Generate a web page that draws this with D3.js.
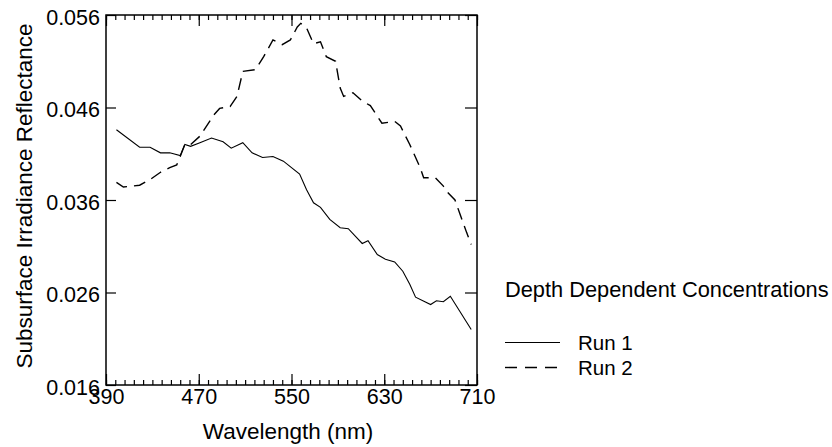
<!DOCTYPE html>
<html><head><meta charset="utf-8">
<script src="https://cdn.jsdelivr.net/npm/d3@7"></script>
<style>
html,body{margin:0;padding:0;background:#fff;}
svg{display:block;font-family:Arial,"Liberation Sans",Helvetica,sans-serif;}
</style></head>
<body><svg id="c" width="832" height="447"></svg>
<script>
// Run 1 (solid)
const run1Wavelength = [399,419,428,437,445,454,458,463,471,481,491,498,508,516,525,534,543,550,557,563,569,575,583,592,599,605,611,616,624,631,639,646,652,657,670,675,681,687,695,705];
const run1Reflectance = [0.0436,0.0417,0.0417,0.0411,0.0411,0.0408,0.0420,0.0418,0.0422,0.0427,0.0423,0.0416,0.0422,0.0411,0.0406,0.0407,0.0402,0.0395,0.0388,0.0371,0.0357,0.0352,0.0339,0.0330,0.0329,0.0321,0.0313,0.0316,0.0301,0.0296,0.0293,0.0283,0.0269,0.0255,0.0247,0.0251,0.0250,0.0256,0.0240,0.0220];
// Run 2 (dashed)
const run2Wavelength = [399,405,419,428,437,445,451,454,458,463,471,483,488,497,503,508,519,526,534,542,549,555,558,563,569,575,580,588,592,595,603,611,618,628,639,644,652,661,664,674,681,684,691,695,701,705];
const run2Reflectance = [0.0379,0.0374,0.0376,0.0382,0.0390,0.0395,0.0398,0.0407,0.0420,0.0420,0.0429,0.0452,0.0459,0.0461,0.0472,0.0499,0.0501,0.0515,0.0533,0.0528,0.0533,0.0547,0.0551,0.0546,0.0529,0.0531,0.0515,0.0510,0.0481,0.0472,0.0476,0.0467,0.0462,0.0443,0.0445,0.0440,0.0420,0.0395,0.0384,0.0384,0.0375,0.0369,0.0360,0.0346,0.0325,0.0312];
const xTicks = [390,470,550,630,710];
const yTicks = [0.016,0.026,0.036,0.046,0.056];
const seriesNames = ["Run 1","Run 2"];
const legendTitle = "Depth Dependent Concentrations";

const svg = d3.select("#c");
const L=106,R=477,T=15,B=385;
const x = d3.scaleLinear().domain([390,710]).range([L,R]);
const y = d3.scaleLinear().domain([0.016,0.056]).range([B,T]);
const minorX = d3.range(390,710.1,8);

const g = svg.append("g");
// frame
g.append("rect").attr("x",L).attr("y",T).attr("width",R-L).attr("height",B-T)
 .attr("fill","none").attr("stroke","#000").attr("stroke-width",1.5);

// bottom axis ticks (inward)
const bx = d3.axisBottom(x).tickValues(minorX).tickSize(-5).tickFormat("");
g.append("g").attr("transform",`translate(0,${B})`).call(bx).call(a=>a.select(".domain").remove())
 .selectAll("line").attr("stroke-width",1.2);
const bxM = d3.axisBottom(x).tickValues(xTicks).tickSize(-11).tickFormat(d3.format("d"));
const bxg = g.append("g").attr("transform",`translate(0,${B})`).call(bxM);
bxg.select(".domain").remove();
bxg.selectAll("line").attr("stroke-width",1.2);
bxg.selectAll("text").attr("font-size",21.5).attr("fill","#000").attr("y",19).attr("dy",null);
// top axis
const tx = d3.axisTop(x).tickValues(minorX).tickSize(-5).tickFormat("");
g.append("g").attr("transform",`translate(0,${T})`).call(tx).call(a=>a.select(".domain").remove()).selectAll("line").attr("stroke-width",1.2);
const txM = d3.axisTop(x).tickValues(xTicks).tickSize(-11).tickFormat("");
g.append("g").attr("transform",`translate(0,${T})`).call(txM).call(a=>a.select(".domain").remove()).selectAll("line").attr("stroke-width",1.2);
// left axis
const ly = d3.axisLeft(y).tickValues(yTicks).tickSize(-10).tickFormat(d3.format(".3f"));
const lyg = g.append("g").attr("transform",`translate(${L},0)`).call(ly);
lyg.select(".domain").remove();
lyg.selectAll("line").attr("stroke-width",1.2);
lyg.selectAll("text").attr("font-size",21.5).attr("fill","#000").attr("x",-6).attr("dy",null).attr("y",9);
// right axis
const ry = d3.axisRight(y).tickValues(yTicks).tickSize(-12).tickFormat("");
g.append("g").attr("transform",`translate(${R},0)`).call(ry).call(a=>a.select(".domain").remove()).selectAll("line").attr("stroke-width",1.2);

// lines
const line = d3.line().x(d=>x(d[0])).y(d=>y(d[1]));
const d1 = run1Wavelength.map((w,i)=>[w,run1Reflectance[i]]);
const d2 = run2Wavelength.map((w,i)=>[w,run2Reflectance[i]]);
g.append("path").datum(d1).attr("d",line).attr("fill","none").attr("stroke","#000").attr("stroke-width",1.1);
g.append("path").datum(d2).attr("d",line).attr("fill","none").attr("stroke","#000").attr("stroke-width",1.4).attr("stroke-dasharray","12,7");

// axis titles
svg.append("text").attr("x",288).attr("y",439).attr("text-anchor","middle").attr("font-size",22.5).text("Wavelength (nm)");
svg.append("text").attr("transform","translate(32,196) rotate(-90)").attr("text-anchor","middle").attr("font-size",22.5).text("Subsurface Irradiance Reflectance");

// legend
const lg = svg.append("g");
lg.append("text").attr("x",505).attr("y",297).attr("font-size",21.8).text(legendTitle);
const dashes = [null,"12,8"];
seriesNames.forEach((n,i)=>{
  const yy = 342.5 + i*25;
  lg.append("line").attr("x1",505).attr("x2",560).attr("y1",yy).attr("y2",yy)
    .attr("stroke","#000").attr("stroke-width",i?1.4:1.1).attr("stroke-dasharray",dashes[i]);
  lg.append("text").attr("x",578).attr("y",yy+7).attr("font-size",20.5).text(n);
});
</script></body></html>
